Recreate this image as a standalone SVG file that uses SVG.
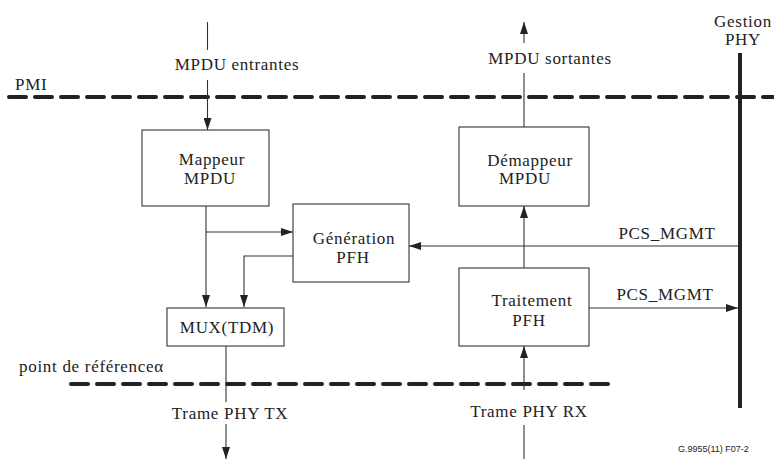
<svg xmlns="http://www.w3.org/2000/svg" width="774" height="462" viewBox="0 0 774 462">
  <defs>
    <marker id="arrow" viewBox="0 0 12 8" refX="12" refY="4" markerWidth="12" markerHeight="8" markerUnits="userSpaceOnUse" orient="auto">
      <path d="M0,0 L12,4 L0,8 Z" fill="#222"/>
    </marker>
    <style>
      .box { fill: #fff; stroke: #333; stroke-width: 1.1; }
      .lbl { font-size: 17px; letter-spacing: 0.7px; fill: #222; }
      .mid { text-anchor: middle; }
      .wire { fill: none; stroke: #333; stroke-width: 1.1; }
      .dash { fill: none; stroke: #222; stroke-width: 4; stroke-dasharray: 17 9; stroke-linecap: round; }
      .bus { fill: none; stroke: #222; stroke-width: 4; }
      .ref { font-size: 9px; fill: #222; }
    </style>
  </defs>

  <rect width="774" height="462" fill="#fff"/>

  <g font-family="Liberation Serif, Times New Roman, serif">
  <!-- interface levels -->
  <g id="levels">
    <line class="dash" x1="9" y1="97" x2="774" y2="97"/>
    <text class="lbl" x="15" y="90">PMI</text>
    <line class="dash" x1="71" y1="384" x2="608" y2="384"/>
    <text class="lbl" x="19" y="372">point de référenceα</text>
  </g>

  <!-- PHY management bus -->
  <g id="gestion-phy">
    <line class="bus" x1="740" y1="53" x2="740" y2="408"/>
    <text class="lbl mid" x="743" y="27">Gestion</text>
    <text class="lbl mid" x="743" y="45">PHY</text>
  </g>

  <g id="mappeur">
    <rect class="box" x="142" y="130" width="127" height="76"/>
    <text class="lbl mid" x="212" y="165">Mappeur</text>
    <text class="lbl mid" x="210" y="184">MPDU</text>
  </g>

  <g id="demappeur">
    <rect class="box" x="459" y="127" width="130" height="79"/>
    <text class="lbl mid" x="530" y="166">Démappeur</text>
    <text class="lbl mid" x="525" y="184">MPDU</text>
  </g>

  <g id="generation">
    <rect class="box" x="293" y="204" width="116" height="78"/>
    <text class="lbl mid" x="354" y="244">Génération</text>
    <text class="lbl mid" x="353" y="263">PFH</text>
  </g>

  <g id="traitement">
    <rect class="box" x="459" y="268" width="130" height="78"/>
    <text class="lbl mid" x="532" y="306">Traitement</text>
    <text class="lbl mid" x="529" y="326">PFH</text>
  </g>

  <g id="mux">
    <rect class="box" x="167" y="308" width="117" height="38"/>
    <text class="lbl mid" x="227" y="333">MUX(TDM)</text>
  </g>

  <!-- connectors -->
  <g id="connectors">
    <!-- incoming MPDUs -->
    <line class="wire" x1="207.5" y1="22" x2="207.5" y2="50"/>
    <line class="wire" x1="207.5" y1="80" x2="207.5" y2="130" marker-end="url(#arrow)"/>
    <text class="lbl mid" x="237" y="70">MPDU entrantes</text>

    <!-- outgoing MPDUs -->
    <line class="wire" x1="524" y1="127" x2="524" y2="73"/>
    <line class="wire" x1="524" y1="43" x2="524" y2="22" marker-end="url(#arrow)"/>
    <text class="lbl mid" x="550" y="64">MPDU sortantes</text>

    <!-- mapper to MUX, with branch to header generation -->
    <line class="wire" x1="206" y1="206" x2="206" y2="307" marker-end="url(#arrow)"/>
    <line class="wire" x1="206" y1="232" x2="293" y2="232" marker-end="url(#arrow)"/>
    <polyline class="wire" points="293,256 244,256 244,307" marker-end="url(#arrow)"/>

    <!-- MUX output -->
    <line class="wire" x1="226" y1="346" x2="226" y2="402"/>
    <line class="wire" x1="226" y1="424" x2="226" y2="459" marker-end="url(#arrow)"/>
    <text class="lbl mid" x="230" y="419">Trame PHY TX</text>

    <!-- RX input -->
    <line class="wire" x1="524" y1="459" x2="524" y2="425"/>
    <line class="wire" x1="524" y1="390" x2="524" y2="346" marker-end="url(#arrow)"/>
    <text class="lbl mid" x="529" y="417">Trame PHY RX</text>

    <!-- header processing to demapper -->
    <line class="wire" x1="524" y1="268" x2="524" y2="206" marker-end="url(#arrow)"/>

    <!-- management -->
    <line class="wire" x1="740" y1="246" x2="409" y2="246" marker-end="url(#arrow)"/>
    <text class="lbl mid" x="667" y="239">PCS_MGMT</text>
    <line class="wire" x1="589" y1="308" x2="738" y2="308" marker-end="url(#arrow)"/>
    <text class="lbl mid" x="665" y="300">PCS_MGMT</text>
  </g>
  </g>

  <text class="ref" font-family="Liberation Sans, Arial, sans-serif" x="678" y="452">G.9955(11)  F07-2</text>
</svg>
